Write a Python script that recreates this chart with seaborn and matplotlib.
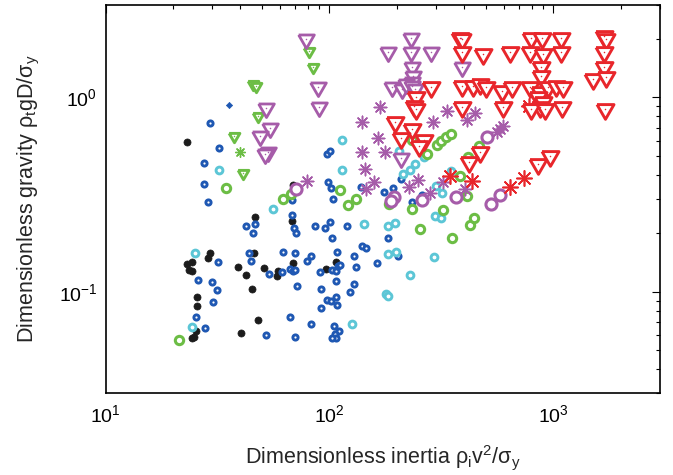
import numpy as np
import pandas as pd
import matplotlib
matplotlib.use("Agg")
import matplotlib.pyplot as plt
import seaborn as sns
from matplotlib.ticker import LogLocator, LogFormatterMathtext, NullFormatter

# ---------------- data: dimensionless inertia (x) vs dimensionless gravity (y) ----------------
black_x = [23.0, 46.4, 68.0, 68.6, 29.2, 28.8, 23.0, 24.4, 23.6, 24.4, 39.1, 42.2, 46.1, 51.0,
           58.6, 58.0, 68.8, 96.3, 106.7, 44.9, 25.7, 25.6, 47.7, 40.2, 25.3, 24.2, 24.9]
black_y = [0.587, 0.243, 0.230, 0.355, 0.159, 0.149, 0.139, 0.1415, 0.130, 0.128, 0.1345, 0.122,
           0.158, 0.132, 0.128, 0.121, 0.1405, 0.131, 0.143, 0.103, 0.0943, 0.0847, 0.0717,
           0.0611, 0.0630, 0.0578, 0.0582]

blue_x = [29.2, 32.2, 27.5, 27.5, 28.7, 67.7, 42.2, 46.4, 69.3, 86.0, 45.6, 70.7, 95.3, 100.3,
          103, 120, 43.7, 44.8, 62.0, 69.8, 79.4, 82.8, 107.8, 31.8, 53.7, 61.1, 66.5, 68.8,
          70.5, 90.5, 103.1, 107, 108.9, 111.8, 106.7, 25.9, 29.9, 31.4, 30.3, 71.4, 91.4, 97.0,
          101.3, 107.1, 92.1, 107.8, 25.3, 27.8, 66.5, 82.8, 105.3, 109.9, 105.6, 107.4, 103.1,
          52.3, 70.5, 97.0, 101.0, 98.8, 101.8, 103.8, 208, 175.3, 192.3, 138, 233.7, 259,
          182.7, 140.4, 146.1, 128.4, 201.8, 131.9, 163.1, 128.1, 123.7, 67.9]
blue_y = [0.739, 0.549, 0.459, 0.357, 0.290, 0.248, 0.217, 0.223, 0.214, 0.217, 0.201, 0.200,
          0.213, 0.228, 0.189, 0.219, 0.158, 0.1444, 0.161, 0.159, 0.144, 0.152, 0.161, 0.1427,
          0.124, 0.127, 0.131, 0.128, 0.129, 0.127, 0.129, 0.128, 0.136, 0.138, 0.113, 0.115,
          0.112, 0.102, 0.0881, 0.1074, 0.103, 0.0906, 0.0899, 0.0935, 0.0824, 0.085, 0.0740,
          0.0653, 0.0740, 0.0682, 0.0665, 0.0630, 0.0605, 0.0578, 0.0578, 0.0599, 0.0582, 0.511,
          0.532, 0.365, 0.342, 0.300, 0.381, 0.325, 0.342, 0.347, 0.288, 0.315, 0.188, 0.171,
          0.167, 0.152, 0.153, 0.1345, 0.140, 0.110, 0.0998, 0.298]

cyan_x = [25.0, 24.3, 32.2, 56.0, 113.9, 113.9, 142.8, 182.7, 196.3, 204, 182.7, 198, 178, 183,
          230, 214, 228.5, 242, 264, 292, 295, 314, 318, 298, 350, 126]
cyan_y = [0.158, 0.0660, 0.421, 0.2665, 0.604, 0.423, 0.222, 0.217, 0.225, 0.528, 0.1555, 0.160,
          0.097, 0.095, 0.122, 0.404, 0.4245, 0.455, 0.491, 0.150, 0.246, 0.2385, 0.321, 0.351,
          0.4195, 0.0682]

green_x = [21.3, 34.6, 62.0, 67.2, 111.8, 120.8, 130.9, 184, 233, 253.5, 233.7, 274, 301, 316,
           330.5, 347.6, 416, 466, 323, 384, 411, 354, 423, 441]
green_y = [0.0567, 0.343, 0.300, 0.318, 0.334, 0.280, 0.300, 0.283, 0.267, 0.211, 0.604, 0.511,
           0.571, 0.599, 0.622, 0.648, 0.494, 0.561, 0.262, 0.393, 0.312, 0.188, 0.2205, 0.2385]

pring_x = [70.7, 195, 188, 258, 366, 506, 576, 525]
pring_y = [0.336, 0.306, 0.294, 0.2955, 0.3055, 0.622, 0.315, 0.282]

past_x = [167.7, 140.4, 333.5, 445, 290, 412, 164.3, 139.4, 176.6, 143.8, 599, 579, 560, 79.2,
          146.3, 157.6, 247.7, 226, 280, 322, 402]
past_y = [0.888, 0.744, 0.854, 0.827, 0.744, 0.764, 0.618, 0.522, 0.522, 0.430, 0.711, 0.686,
          0.666, 0.373, 0.338, 0.369, 0.376, 0.344, 0.324, 0.368, 0.339]

rast_x = [347, 433, 737, 638, 782]
rast_y = [0.3955, 0.370, 0.3865, 0.344, 0.900]

gast_x = [40.0]
gast_y = [0.525]

bdia_x = [35.6]
bdia_y = [0.915]

gtri_x = [45.6, 46.8, 47.9, 37.4, 41.2, 81.3, 84.7]
gtri_y = [1.17, 1.14, 0.805, 0.631, 0.408, 1.74, 1.427]

ptri_x = [78.4, 89.0, 90.1, 52.3, 54.4, 49.1, 53.0, 51.5, 182.3, 231.4, 232, 284.4, 234, 235,
          233, 189.6, 210, 219.5, 233.7, 240.4, 209.5, 385.6, 389.6]
ptri_y = [2.0, 1.13, 0.895, 0.880, 0.698, 0.635, 0.526, 0.511, 1.706, 2.01, 1.706, 1.706, 1.427,
          1.285, 1.195, 1.126, 1.105, 1.17, 1.149, 1.105, 0.489, 2.02, 1.427]

rtri_x = [381.7, 389.6, 792, 887, 1078, 1694, 1729,
          389.6, 485, 638, 784, 899, 1085, 1694,
          886, 1694,
          886, 1503, 1724,
          284, 390, 438, 469, 503, 590, 651, 784, 869, 946, 1031, 1104,
          851, 899, 869,
          243, 238, 243, 392, 596, 797, 915, 1094, 1711,
          197, 233, 208, 265, 250,
          469, 420, 851, 963]
rtri_y = [2.03, 2.0, 2.01, 2.01, 2.01, 2.07, 2.0,
          1.706, 1.674, 1.706, 1.706, 1.674, 1.706, 1.706,
          1.427, 1.427,
          1.293, 1.245, 1.268,
          1.126, 1.14, 1.149, 1.172, 1.126, 1.083, 1.126, 1.126, 1.061, 1.126, 1.149, 1.126,
          1.0, 0.942, 0.888,
          1.0, 0.906, 0.871, 0.892, 0.890, 0.871, 0.871, 0.892, 0.874,
          0.749, 0.688, 0.620, 0.605, 0.561,
          0.523, 0.463, 0.454, 0.501]

# ---------------- style ----------------
sns.set_style("white")
plt.rcParams["font.family"] = ["Liberation Sans", "DejaVu Sans"]
plt.rcParams["mathtext.fontset"] = "custom"
plt.rcParams["mathtext.rm"] = "Liberation Sans"
plt.rcParams["mathtext.it"] = "Liberation Sans:italic"
plt.rcParams["mathtext.default"] = "regular"

RED = "#e8262b"
PURPLE = "#a65ca9"
GREEN = "#6cbd45"
CYAN = "#5cc6d6"
BLUE = "#1f58b3"
BLACK = "#1c1c1c"

# equilateral downward triangle and 8-arm asterisk
TRI = [(-1.0, 0.577), (1.0, 0.577), (0.0, -1.155), (-1.0, 0.577)]
AST = (8, 2, 0)

fig = plt.figure(figsize=(6.73, 4.75), dpi=100)
ax = fig.add_axes([105.7 / 673, 1 - 393.3 / 475, (660 - 105.7) / 673, (393.3 - 4.7) / 475])

series = [
    # x, y, marker, size, face, edge, linewidth
    (black_x, black_y, "o", 26, BLACK, BLACK, 0.5),
    (blue_x, blue_y, "o", 14, "white", BLUE, 2.1),
    (cyan_x, cyan_y, "o", 24, "white", CYAN, 2.1),
    (green_x, green_y, "o", 36, "white", GREEN, 2.2),
    (pring_x, pring_y, "o", 64, "white", PURPLE, 2.2),
    (past_x, past_y, AST, 80, PURPLE, PURPLE, 1.1),
    (rast_x, rast_y, AST, 120, RED, RED, 1.2),
    (gast_x, gast_y, AST, 50, GREEN, GREEN, 1.0),
    (bdia_x, bdia_y, "D", 10, BLUE, BLUE, 0.5),
    (gtri_x, gtri_y, TRI, 80, "white", GREEN, 2.1),
    (ptri_x, ptri_y, TRI, 170, "white", PURPLE, 2.0),
    (rtri_x, rtri_y, TRI, 200, "white", RED, 2.1),
]

for xs, ys, mk, s, fc, ec, lw in series:
    df = pd.DataFrame({"x": xs, "y": ys})
    sns.scatterplot(data=df, x="x", y="y", marker=mk, s=s, color=ec, facecolor=fc,
                    edgecolor=ec, linewidth=lw, ax=ax, legend=False, zorder=3)
    if isinstance(mk, list):
        # small centre dot inside each open triangle
        sns.scatterplot(data=df, x="x", y="y", marker="o", s=1.2, color=ec, edgecolor=ec,
                        linewidth=0, ax=ax, legend=False, zorder=4)

ax.set_xscale("log")
ax.set_yscale("log")
ax.set_xlim(10, 3000)
ax.set_ylim(0.03, 3)

for axis in (ax.xaxis, ax.yaxis):
    axis.set_major_locator(LogLocator(base=10))
    axis.set_minor_locator(LogLocator(base=10, subs=np.arange(2, 10)))
    axis.set_major_formatter(LogFormatterMathtext())
    axis.set_minor_formatter(NullFormatter())

ax.tick_params(which="both", direction="in", top=True, right=True, colors="black", width=0.8)
ax.tick_params(which="major", length=6, labelsize=14)
ax.tick_params(which="minor", length=3)
ax.tick_params(axis="x", which="major", pad=8)
ax.tick_params(axis="y", which="major", pad=6)
for sp in ax.spines.values():
    sp.set_color("black")
    sp.set_linewidth(1.2)

ax.set_xlabel("Dimensionless inertia ρ$_i$v$^2$/σ$_y$", fontsize=15.5, labelpad=12)
ax.set_ylabel("Dimensionless gravity ρ$_t$gD/σ$_y$", fontsize=15.5, labelpad=12)

fig.savefig("out.png", dpi=100)
